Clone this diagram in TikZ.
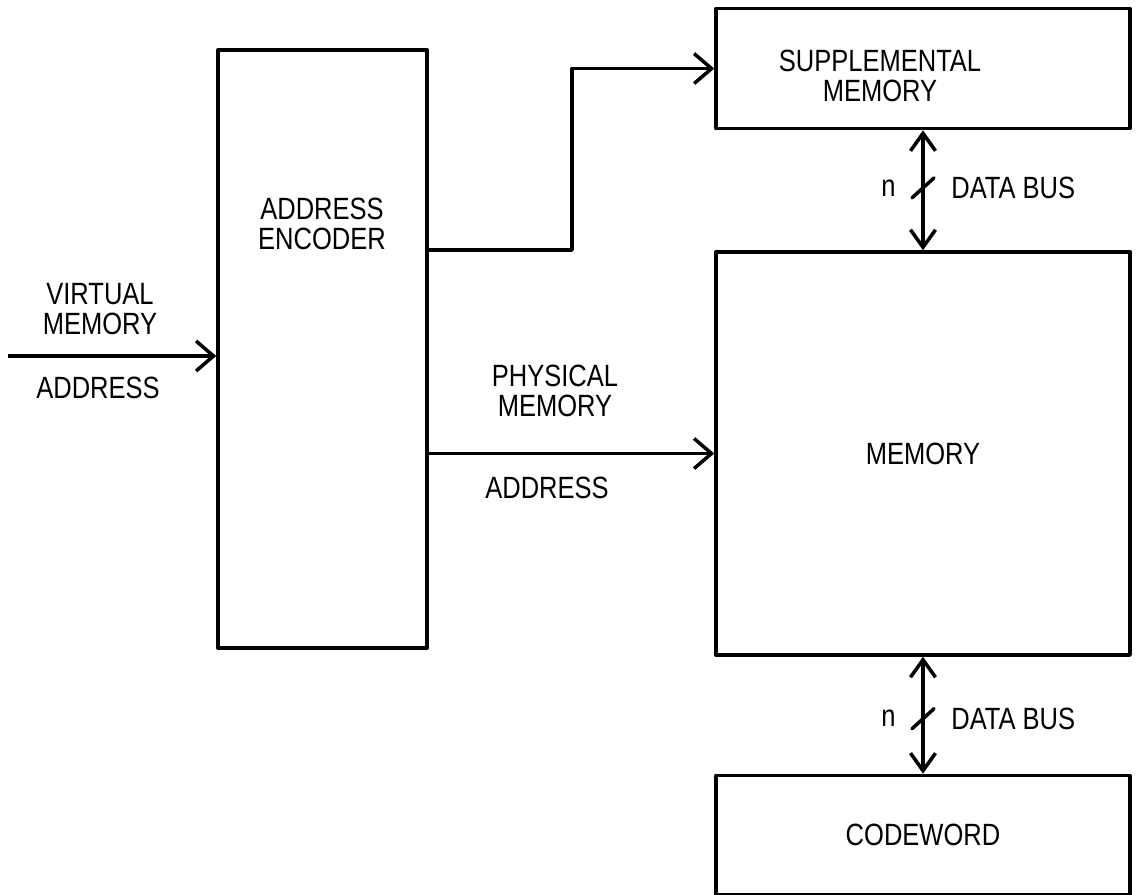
\documentclass[tikz,border=0pt]{standalone}
\usepackage{fontspec}
\setmainfont{Liberation Sans}[FakeStretch=0.83]
\usepackage{tikz}
\usetikzlibrary{positioning,arrows.meta}
\newcommand\lbfont{\fontsize{17.5}{17}\selectfont}

\begin{document}
\begin{tikzpicture}[x=0.02cm, y=-0.02cm,
  box/.style={draw, line width=2pt, line join=round, minimum width=8.28cm, inner sep=0pt, font=\lbfont, align=center},
  lbl/.style={inner sep=0pt, font=\lbfont, align=center},
  arr/.style={-{Straight Barb[length=3.5mm, width=6mm]}, line width=2pt, line join=round},
  bus/.style={{Straight Barb[length=3.5mm, width=5mm]}-{Straight Barb[length=3.5mm, width=5mm]}, line width=2pt},
  tick/.style={line width=2pt, line cap=round},
  node distance=2.4cm]
\useasboundingbox (0,0) rectangle (1136,895);
% blocks
\node[box, minimum width=4.18cm, minimum height=11.96cm] (enc) at (322.5,349) {};
\node[lbl] (enclbl) at (322,224) {ADDRESS\\ENCODER};
\node[box, minimum height=8.06cm] (mem) at (923,453.5) {MEMORY};
\node[box, minimum height=2.4cm, above=2.4cm of mem] (supp) {};
\node[lbl] (supplbl) at (880,76) {SUPPLEMENTAL\\MEMORY};
\node[box, minimum height=2.38cm, below=2.34cm of mem] (code) {CODEWORD};
% virtual address in
\coordinate (vin) at (8,356);
\node[lbl] (vmlbl) at (100,309) {VIRTUAL\\MEMORY};
\node[lbl] (valbl) at (98,388) {ADDRESS};
\draw[arr] (vin) -- (vin -| enc.west);
% encoder outputs
\coordinate (bend) at (572,250);
\draw[arr] (bend -| enc.east) -- (bend) |- (supp.west);
\draw[arr] (mem.west -| enc.east) -- (mem.west);
\node[lbl] (pmlbl) at (555,391) {PHYSICAL\\MEMORY};
\node[lbl] (palbl) at (547,488) {ADDRESS};
% data buses
\draw[bus] (supp.south) -- coordinate[pos=0.48] (bus1) (mem.north);
\draw[tick] ([shift={(-11,10)}]bus1) -- ([shift={(11,-10)}]bus1);
\node[lbl, left=0.54cm of bus1] (n1) {n};
\node[lbl, right=0.56cm of bus1] (db1) {DATA BUS};
\draw[bus] (mem.south) -- coordinate[pos=0.53] (bus2) (code.north);
\draw[tick] ([shift={(-11,10)}]bus2) -- ([shift={(11,-10)}]bus2);
\node[lbl, left=0.54cm of bus2] (n2) {n};
\node[lbl, right=0.56cm of bus2] (db2) {DATA BUS};
\end{tikzpicture}
\end{document}
